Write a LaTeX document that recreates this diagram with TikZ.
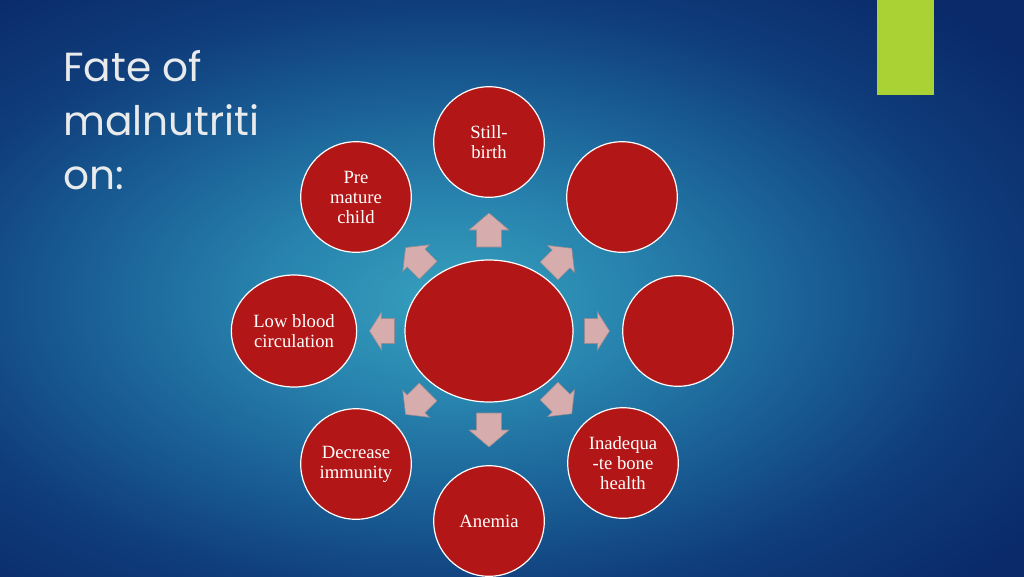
\documentclass[tikz,border=0pt]{standalone}
\usepackage{fontspec}
\setmainfont{Liberation Serif}
\newfontfamily\titlefont{Poppins}
\usetikzlibrary{shapes.geometric}

\definecolor{bgc0}{RGB}{54,160,190}
\definecolor{bgc1}{RGB}{40,132,174}
\definecolor{bgc2}{RGB}{26,96,150}
\definecolor{bgc3}{RGB}{15,60,122}
\definecolor{bgc4}{RGB}{10,42,106}
\definecolor{causered}{RGB}{178,22,22}
\definecolor{arrowpink}{RGB}{214,172,172}
\definecolor{arrowedge}{RGB}{150,140,145}
\definecolor{accentgreen}{RGB}{170,210,52}
\definecolor{titlegray}{RGB}{232,234,236}

\pgfdeclareradialshading{bgglow}{\pgfpoint{0bp}{0bp}}{color(0bp)=(bgc0); color(5bp)=(bgc1); color(10bp)=(bgc2); color(15bp)=(bgc3); color(20bp)=(bgc4); color(50bp)=(bgc4)}

\tikzset{
  cause/.style={circle,fill=causered,draw=white,line width=0.9pt,minimum size=83pt,inner sep=0pt,
    text=white,align=center,font=\fontsize{14}{15}\selectfont},
  barrow/.style={fill=arrowpink,draw=arrowedge,line width=0.4pt}
}

\begin{document}
\begin{tikzpicture}[x=0.75pt,y=-0.75pt]
  \useasboundingbox (0,0) rectangle (1024,576);
  \begin{scope}
    \clip (0,0) rectangle (1024,576);
    \shade[shading=bgglow] (-450,-200) rectangle (1350,800);
  \end{scope}
  \fill[accentgreen] (877,0) rectangle (934,95);

  \node[anchor=north west,inner sep=0pt,align=left,text=titlegray,
    font=\titlefont\fontsize{30.5}{40.5}\selectfont] (title) at (63,50) {Fate of\\malnutriti\\on:};

  % hub and causes
  \node[cause,ellipse,minimum width=126pt,minimum height=106.5pt] (core) at (489,331) {};
  \node[cause] (still) at (489,142) {Still-\\birth};
  \node[cause] (pre) at (356,197) {Pre\\mature\\child};
  \node[cause] (ne) at (622,197) {};
  \node[cause] (east) at (678,331) {};
  \node[cause,ellipse,minimum width=94pt,minimum height=84pt] (low) at (294,331) {Low blood\\circulation};
  \node[cause] (imm) at (356,464) {Decrease\\immunity};
  \node[cause] (anemia) at (489,521) {Anemia};
  \node[cause] (bone) at (623,463) {Inadequa\\-te bone\\health};

  % block arrows round the hub
  \foreach \ang/\dist/\len/\hd/\wd in {90/101/34/17/40, 270/99/34/17/40, 0/108/25/12/38, 180/107/25/12/38,
      45/101/32/15/38, 135/102/32/15/38, 225/102/32/15/38, 315/101/32/15/38}
    \draw[barrow,shift={(core.center)},rotate=\ang,shift={(\dist,0)}]
      (-\len/2,-12.5) -- (\len/2-\hd,-12.5) -- (\len/2-\hd,-\wd/2) -- (\len/2,0)
      -- (\len/2-\hd,\wd/2) -- (\len/2-\hd,12.5) -- (-\len/2,12.5) -- cycle;
\end{tikzpicture}
\end{document}
